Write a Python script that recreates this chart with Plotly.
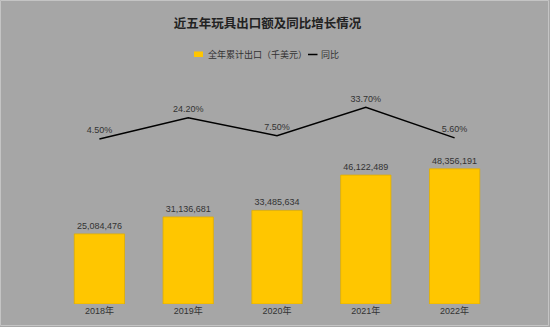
import plotly.graph_objects as go

years = ["2018年", "2019年", "2020年", "2021年", "2022年"]
exports = [25084476, 31136681, 33485634, 46122489, 48356191]
yoy = [4.5, 24.2, 7.5, 33.7, 5.6]
bar_name = "全年累计出口（千美元）"
line_name = "同比"

font_family = "Liberation Sans, Noto Sans CJK SC, Arial, sans-serif"
txt_color = "#333333"
bar_color = "#FFC600"

W, H = 550, 327
L, R, T, B = 55, 51, 60, 23
pw, ph = W - L - R, H - T - B

def px_x(x):
    return (x - L) / pw

def px_y(y):
    return (H - B - y) / ph

fig = go.Figure()
fig.add_trace(go.Bar(
    x=years, y=exports, name=bar_name,
    marker=dict(color=bar_color, line=dict(color="#E0AE00", width=0.8)),
    width=0.566,
    text=[f"{v:,}" for v in exports], textposition="outside",
    textfont=dict(size=9, color=txt_color, family=font_family),
    cliponaxis=False, showlegend=False,
))
fig.add_trace(go.Scatter(
    x=years, y=yoy, name=line_name, yaxis="y2", mode="lines+markers+text",
    line=dict(color="#000000", width=1.5),
    marker=dict(size=4, color="rgba(0,0,0,0)"),
    text=[f"{v:.2f}%" for v in yoy], textposition="top center",
    textfont=dict(size=9, color=txt_color, family=font_family),
    cliponaxis=False, showlegend=False,
))

shapes = [
    # outer border
    dict(type="rect", xref="paper", yref="paper", x0=px_x(0.5), x1=px_x(548.5),
         y0=px_y(325.5), y1=px_y(0.5), line=dict(color="#c4c4c4", width=1), layer="below"),
    # legend: bar swatch
    dict(type="rect", xref="paper", yref="paper", x0=px_x(194), x1=px_x(203),
         y0=px_y(57), y1=px_y(51.5), fillcolor=bar_color, line=dict(width=0)),
    # legend: line swatch
    dict(type="line", xref="paper", yref="paper", x0=px_x(308), x1=px_x(317.5),
         y0=px_y(54.5), y1=px_y(54.5), line=dict(color="#000000", width=1.5)),
]
annotations = [
    dict(text=bar_name, xref="paper", yref="paper", x=px_x(205.5), y=px_y(54.5),
         xanchor="left", yanchor="middle", showarrow=False,
         font=dict(size=9, color=txt_color, family=font_family)),
    dict(text=line_name, xref="paper", yref="paper", x=px_x(319), y=px_y(54.5),
         xanchor="left", yanchor="middle", showarrow=False,
         font=dict(size=9, color=txt_color, family=font_family)),
]

fig.update_layout(
    width=W, height=H,
    margin=dict(l=L, r=R, t=T, b=B, autoexpand=False),
    paper_bgcolor="#a6a6a6", plot_bgcolor="#a6a6a6",
    font=dict(family=font_family, size=9, color=txt_color),
    title=dict(text="<b>近五年玩具出口额及同比增长情况</b>", x=267.5/W, xanchor="center",
               y=1 - 24/H, yanchor="middle", xref="container", yref="container",
               font=dict(size=12.5, color="#222222", family="Noto Sans CJK SC, sans-serif")),
    showlegend=False,
    bargap=0.43,
    xaxis=dict(showgrid=False, showline=False, ticks="", tickfont=dict(size=9, color=txt_color)),
    yaxis=dict(range=[0, 87.3e6], visible=False, showgrid=False),
    yaxis2=dict(range=[-147.4, 77.3], overlaying="y", side="right", visible=False, showgrid=False),
    shapes=shapes,
    annotations=annotations,
)

fig.write_html("out.html")
